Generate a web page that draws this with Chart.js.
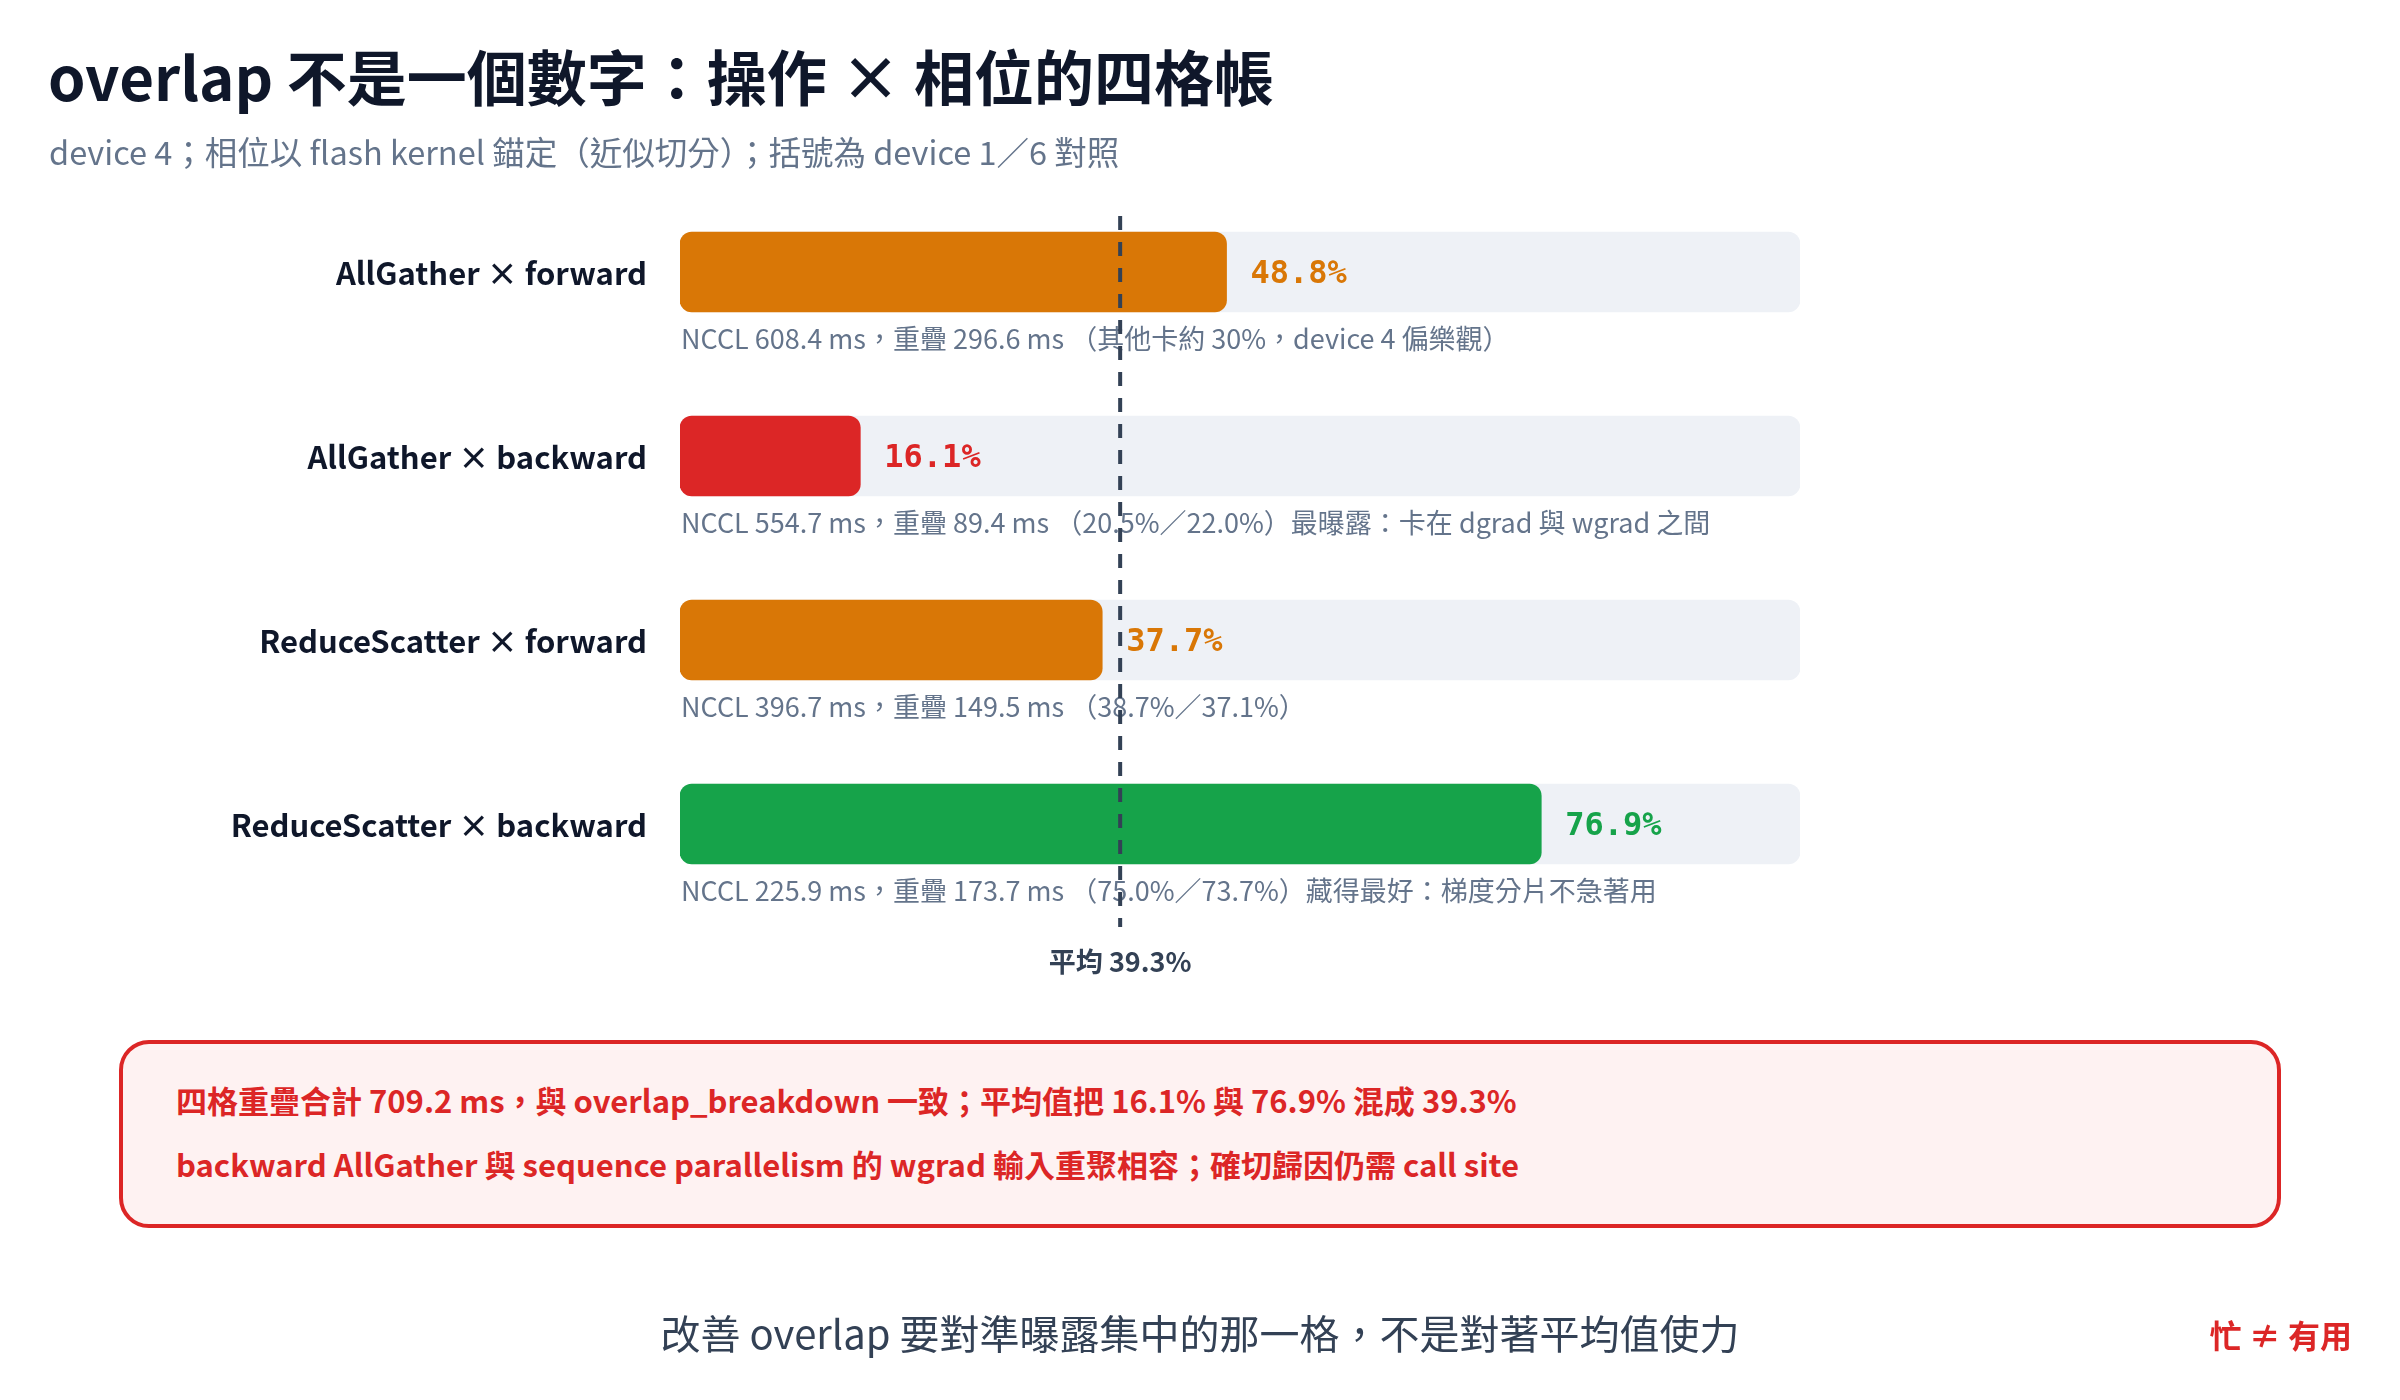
<!DOCTYPE html>
<html>
<head>
<meta charset="utf-8">
<script src="https://cdn.jsdelivr.net/npm/chart.js@4.4.1/dist/chart.umd.min.js"></script>
<style>
  body { margin: 0; width: 2400px; height: 1400px; background: #ffffff; position: relative; overflow: hidden;
         font-family: "Noto Sans CJK TC", "Noto Sans", sans-serif; }
  #chart { position: absolute; left: 0; top: 0; }
  .txt { position: absolute; white-space: nowrap; line-height: 1; }
  #title { left: 48px; top: 45px; font-size: 60px; font-weight: 700; color: #0f172a; }
  #subtitle { left: 49px; top: 135px; font-size: 32.5px; color: #64748b; }
  #note { position: absolute; left: 119px; top: 1040px; width: 2154px; height: 180px;
          border: 4px solid #dc2626; border-radius: 30px; background: #fef2f2; }
  .noteLine { position: absolute; left: 53px; font-size: 31px; font-weight: 700; color: #dc2626; white-space: nowrap; line-height: 1; }
  #footer { left: 0; width: 2400px; text-align: center; top: 1312px; font-size: 40px; color: #334155; }
  #tag { right: 48px; top: 1318px; font-size: 32px; font-weight: 700; color: #dc2626; }
</style>
</head>
<body>
<canvas id="chart" width="2400" height="1400"></canvas>
<div class="txt" id="title">overlap 不是一個數字：操作 × 相位的四格帳</div>
<div class="txt" id="subtitle">device 4；相位以 flash kernel 錨定（近似切分）；括號為 device 1／6 對照</div>
<div id="note">
  <div class="noteLine" style="top: 40px;">四格重疊合計 709.2 ms，與 overlap_breakdown 一致；平均值把 16.1% 與 76.9% 混成 39.3%</div>
  <div class="noteLine" style="top: 104px;">backward AllGather 與 sequence parallelism 的 wgrad 輸入重聚相容；確切歸因仍需 call site</div>
</div>
<div class="txt" id="footer">改善 overlap 要對準曝露集中的那一格，不是對著平均值使力</div>
<div class="txt" id="tag">忙 ≠ 有用</div>

<script>
// data
const categories = ['AllGather × forward', 'AllGather × backward', 'ReduceScatter × forward', 'ReduceScatter × backward'];
const overlapPct = [48.8, 16.1, 37.7, 76.9];
const barColors = ['#d97706', '#dc2626', '#d97706', '#16a34a'];
const ncclMs = [608.4, 554.7, 396.7, 225.9];
const overlapMs = [296.6, 89.4, 149.5, 173.7];
const compareNotes = ['其他卡約 30%，device 4 偏樂觀', '20.5%／22.0%', '38.7%／37.1%', '75.0%／73.7%'];
const tailNotes = ['', '最曝露：卡在 dgrad 與 wgrad 之間', '', '藏得最好：梯度分片不急著用'];
const fullScale = [100, 100, 100, 100];
const meanPct = 39.3;

const FONT = '"Noto Sans CJK TC", "Noto Sans", sans-serif';

// Text, mean line and labels drawn on top of the bars
const overlayPlugin = {
    id: 'overlay',
    afterDatasetsDraw(chart) {
        const ctx = chart.ctx;
        const x = chart.scales.x;
        const y = chart.scales.y;
        ctx.save();

        categories.forEach((cat, i) => {
            const cy = y.getPixelForValue(i);

            // category label
            ctx.font = `700 31px ${FONT}`;
            ctx.fillStyle = '#0f172a';
            ctx.textAlign = 'right';
            ctx.textBaseline = 'middle';
            ctx.fillText(cat, chart.chartArea.left - 33, cy + 1);

            // value label
            ctx.font = '700 32px "DejaVu Sans Mono", monospace';
            ctx.fillStyle = barColors[i];
            ctx.textAlign = 'left';
            ctx.fillText(overlapPct[i].toFixed(1) + '%', x.getPixelForValue(overlapPct[i]) + 24, cy + 3);

            // annotation under bar
            const note = `NCCL ${ncclMs[i].toFixed(1)} ms，重疊 ${overlapMs[i].toFixed(1)} ms （${compareNotes[i]}）${tailNotes[i]}`;
            ctx.font = `400 27px ${FONT}`;
            ctx.fillStyle = '#64748b';
            ctx.fillText(note, chart.chartArea.left + 1, cy + 67);
        });

        // mean line
        const mx = x.getPixelForValue(meanPct);
        ctx.strokeStyle = '#334155';
        ctx.lineWidth = 4;
        ctx.setLineDash([14, 12]);
        ctx.beginPath();
        ctx.moveTo(mx, 216);
        ctx.lineTo(mx, 927);
        ctx.stroke();
        ctx.setLineDash([]);

        ctx.font = `700 27px ${FONT}`;
        ctx.fillStyle = '#334155';
        ctx.textAlign = 'center';
        ctx.textBaseline = 'middle';
        ctx.fillText('平均 ' + meanPct.toFixed(1) + '%', mx, 962);

        ctx.restore();
    }
};

const ctx = document.getElementById('chart').getContext('2d');
const overlapChart = new Chart(ctx, {
    type: 'bar',
    data: {
        labels: categories,
        datasets: [
            {
                data: overlapPct,
                backgroundColor: barColors,
                barThickness: 80,
                borderRadius: 12,
                borderSkipped: false,
                grouped: false,
                order: 0,
            },
            {
                data: fullScale,
                backgroundColor: '#eef1f6',
                barThickness: 80,
                borderRadius: 12,
                borderSkipped: false,
                grouped: false,
                order: 1,
            },
        ],
    },
    options: {
        indexAxis: 'y',
        responsive: false,
        animation: false,
        layout: {
            padding: { left: 680, right: 600, top: 180, bottom: 484 },
        },
        scales: {
            x: { display: false, min: 0, max: 100 },
            y: { display: false },
        },
        plugins: {
            legend: { display: false },
            tooltip: { enabled: false },
        },
    },
    plugins: [overlayPlugin],
});
</script>
</body>
</html>
